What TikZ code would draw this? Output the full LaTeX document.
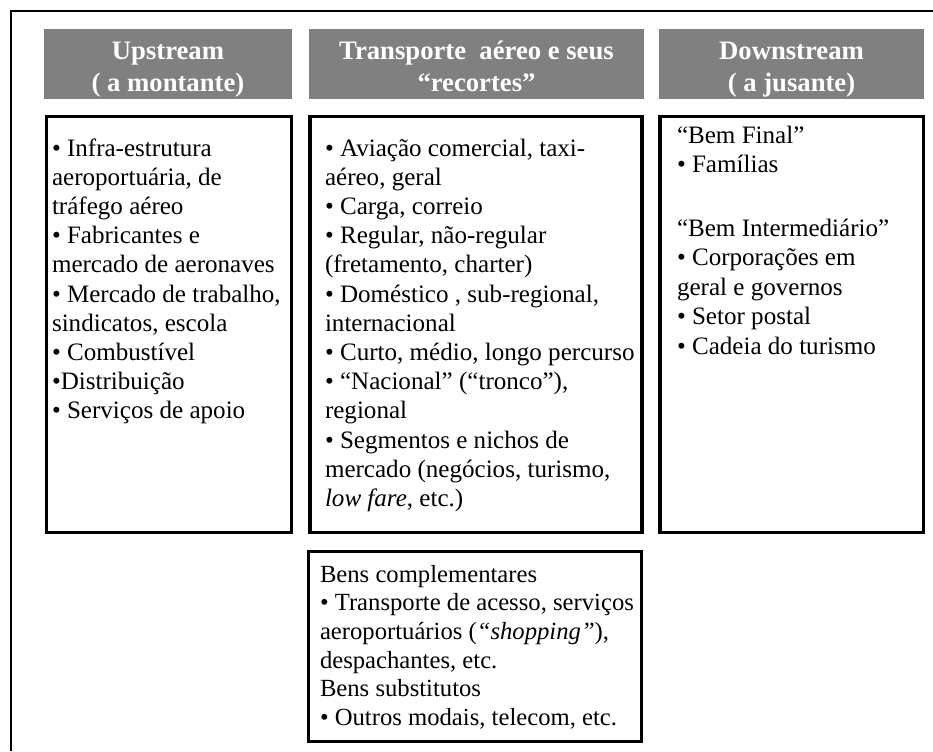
\documentclass[tikz,border=0pt]{standalone}
\usepackage{fontspec}
\setmainfont{Liberation Serif}
\definecolor{hgray}{HTML}{808080}
\begin{document}
\begin{tikzpicture}[x=0.75pt,y=-0.75pt,
  hdr/.style={fill=hgray, draw=none, inner sep=0pt, outer sep=0pt},
  boxframe/.style={draw=black, line width=2.3pt, inner sep=0pt, outer sep=0pt},
  hdrtext/.style={anchor=north, inner sep=0pt, outer sep=0pt, align=center, text=white,
    font=\bfseries\fontsize{20pt}{24.5pt}\selectfont},
  body/.style={anchor=north west, inner sep=0pt, outer sep=0pt, align=left,
    font=\fontsize{18.8pt}{21.9pt}\selectfont}]
\useasboundingbox (0,0) rectangle (933,751);
\fill[white] (0,0) rectangle (933,751);
% outer frame (cut off at right and bottom)
\draw[line width=0.8pt] (933,11) -- (11,11) -- (11,751);
% headers
\node[hdr, minimum width=186pt, minimum height=52.5pt] (h1) at (168,64) {};
\node[hdr, minimum width=251.25pt, minimum height=52.5pt] (h2) at (476.5,64) {};
\node[hdr, minimum width=198.75pt, minimum height=52.5pt] (h3) at (791.5,64) {};
\node[hdrtext] (t1) at (168,36.4) {\strut Upstream\\( a montante)};
\node[hdrtext] (t2) at (476.5,36.4) {\strut Transporte~ aéreo e seus\\“recortes”};
\node[hdrtext] (t3) at (791.5,36.4) {\strut Downstream\\( a jusante)};
% content boxes
\node[boxframe, minimum width=183.75pt, minimum height=312pt] (b1) at (169,324.5) {};
\node[boxframe, minimum width=249pt, minimum height=312pt] (b2) at (476,324.5) {};
\node[boxframe, minimum width=197.625pt, minimum height=312pt] (b3) at (791.75,324.5) {};
\node[boxframe, minimum width=249.75pt, minimum height=142.5pt] (b4) at (475,646.5) {};
% texts
\node[body] (x1) at (52,135.6) {\strut • Infra-estrutura\\aeroportuária, de\\tráfego aéreo\\• Fabricantes e\\mercado de aeronaves\\• Mercado de trabalho,\\sindicatos, escola\\• Combustível\\•Distribuição\\• Serviços de apoio};
\node[body] (x2) at (325,135.6) {\strut • Aviação comercial, taxi-\\aéreo, geral\\• Carga, correio\\• Regular, não-regular\\(fretamento, charter)\\• Doméstico , sub-regional,\\internacional\\• Curto, médio, longo percurso\\• “Nacional” (“tronco”),\\regional\\• Segmentos e nichos de\\mercado (negócios, turismo,\\\textit{low fare}, etc.)};
\node[body, font=\fontsize{18.8pt}{22.1pt}\selectfont] (x3) at (677,122.6) {\strut “Bem Final”\\• Famílias\\[3.5pt] \\“Bem Intermediário”\\• Corporações em\\geral e governos\\• Setor postal\\• Cadeia do turismo};
\node[body, font=\fontsize{18.5pt}{21.5pt}\selectfont] (x4) at (320,562) {\strut Bens complementares\\• Transporte de acesso, serviços\\aeroportuários (\textit{“shopping”}),\\despachantes, etc.\\Bens substitutos\\• Outros modais, telecom, etc.};
\end{tikzpicture}
\end{document}
